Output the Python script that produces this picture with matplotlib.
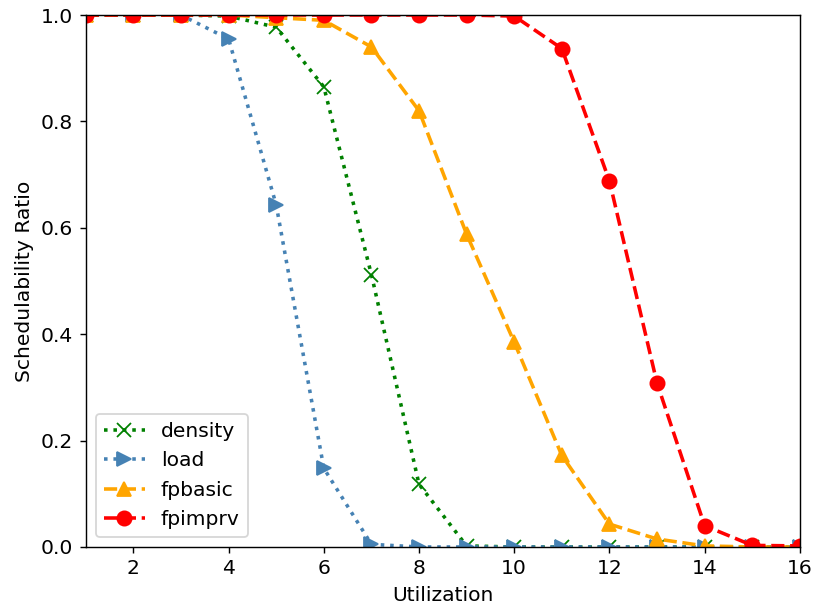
import matplotlib
matplotlib.use("Agg")
import matplotlib.pyplot as plt
import numpy as np

utilization = np.arange(1, 17)

density = [1, 1, 1, 0.998, 0.977, 0.865, 0.512, 0.118, 0.002, 0, 0, 0, 0, 0, 0, 0]
load = [1, 1, 1, 0.955, 0.643, 0.148, 0.005, 0, 0, 0, 0, 0, 0, 0, 0, 0]
fpbasic = [1, 1, 1, 1, 0.995, 0.99, 0.94, 0.82, 0.588, 0.385, 0.172, 0.043, 0.015, 0.002, 0, 0]
fpimprv = [1, 1, 1, 1, 1, 1, 1, 1, 1, 0.998, 0.937, 0.688, 0.308, 0.04, 0.003, 0.002]

plt.rcParams['font.size'] = 11.4

fig = plt.figure(figsize=(817 / 128, 613 / 128), dpi=128)
ax = fig.add_axes([0.105, 0.1077, 0.874, 0.8678])

ax.plot(utilization, density, linestyle=':', marker='x', color='green', markersize=8, linewidth=2, label='density')
ax.plot(utilization, load, linestyle=':', marker='>', color='steelblue', markersize=8, linewidth=2, label='load')
ax.plot(utilization, fpbasic, linestyle='--', marker='^', color='orange', markersize=8, linewidth=2, label='fpbasic')
ax.plot(utilization, fpimprv, linestyle='--', marker='o', color='red', markersize=8, linewidth=2, label='fpimprv')

ax.set_xlim(1, 16)
ax.set_ylim(0, 1)
ax.set_xticks(range(2, 17, 2))
ax.set_xlabel("Utilization")
ax.set_ylabel("Schedulability Ratio")
ax.legend(loc='lower left')

fig.savefig('out.png', dpi=128)
